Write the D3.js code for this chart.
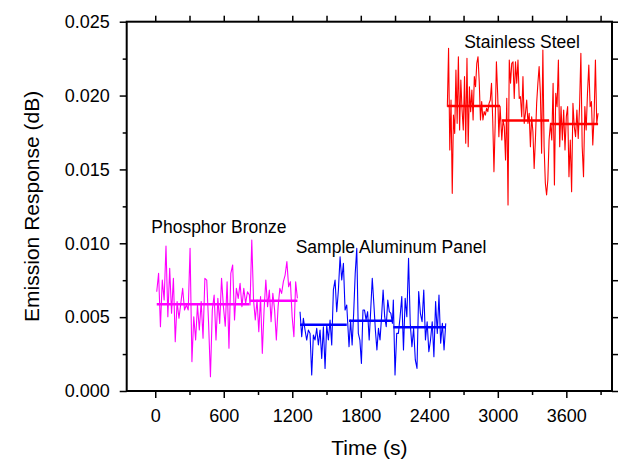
<!DOCTYPE html>
<html>
<head>
<meta charset="utf-8">
<script src="https://cdn.jsdelivr.net/npm/d3@7"></script>
<style>
  body { margin: 0; background: #fff; }
  text { font-family: Arial, "Liberation Sans", Helvetica, sans-serif; }
</style>
</head>
<body>
<svg id="chart" width="636" height="460"></svg>
<script>
// emission response values are in 1e-3 dB, one array per measurement run
const bronzeRuns = [
  [6.72, 7.97, 4.35, 7.51, 6.16, 9.82, 5.03, 8.30, 5.26, 7.63, 3.34, 6.05, 4.92, 5.93, 6.95, 5.48, 5.82, 5.48, 9.66, 1.99, 5.03, 3.45, 5.82, 4.13, 6.05, 3.57, 7.63, 7.51, 4.58, 0.97, 5.48, 6.50, 3.45, 6.27, 4.58, 7.63, 5.71, 4.38, 7.40, 2.89, 7.97, 8.53, 4.81, 6.95, 6.27, 7.29, 5.71, 6.95, 5.93, 6.72, 6.50],
  [5.82, 10.22, 6.16, 4.81, 6.16, 4.02, 6.39, 2.55, 5.48, 7.51, 5.71, 6.84, 4.69, 6.61, 5.48, 3.45, 5.71, 6.95, 6.61, 7.40, 7.85, 8.76, 7.06, 7.40, 5.03, 3.68, 7.40, 6.27]
]
const bronzeTimes = [[13, 824], [830, 1245]]
const bronzeMeans = [5.87, 6.11]

const aluminumRuns = [
  [5.37, 3.68, 4.92, 4.13, 3.45, 4.13, 3.90, 1.08, 3.79, 3.45, 4.24, 3.11, 4.13, 2.21, 4.35, 1.53, 4.47, 3.45, 4.81, 3.11, 6.84, 7.51, 5.37, 6.84, 9.09, 7.51, 8.64, 5.48, 5.82],
  [3.00, 4.81, 3.11, 5.26, 7.97, 9.66, 3.90, 3.45, 1.87, 5.48, 5.48, 4.81, 5.37, 3.45, 5.48, 7.63, 5.93, 4.13, 2.78, 4.24, 3.45, 5.03, 6.84, 5.03, 4.35, 6.16, 5.37, 5.26, 4.58],
  [6.16, 1.08, 3.90, 3.90, 5.03, 6.39, 2.78, 6.27, 5.03, 8.98, 4.58, 3.00, 4.24, 2.10, 1.53, 6.73, 5.26, 4.69, 6.84, 3.45, 4.69, 2.66, 3.45, 4.69, 2.32, 6.05, 3.90, 6.50, 3.23, 4.58, 2.78, 4.58]
]
const aluminumTimes = [[1268, 1677], [1697, 2077], [2085, 2544]]
const aluminumMeans = [4.49, 4.76, 4.31]

const steelRuns = [
  [19.25, 23.20, 16.31, 19.70, 13.38, 18.68, 17.44, 21.73, 18.12, 22.63, 17.67, 21.05, 19.02, 17.67, 21.28, 16.77, 22.52, 16.54, 20.60, 18.91, 20.38, 18.35, 21.28, 20.60, 22.18, 22.63, 20.94, 18.35, 19.59, 18.35, 18.91, 18.68, 19.14, 18.91, 19.47, 19.70, 20.83, 18.35, 14.85, 18.12, 22.29, 20.15, 17.22, 19.25],
  [16.99, 18.35, 17.89, 15.64, 19.81, 12.59, 22.41, 20.83, 22.18, 22.29, 19.81, 22.29, 20.83, 22.41, 19.81, 19.93, 18.57, 21.28, 18.12, 18.80, 19.70, 18.12, 18.80, 16.54, 18.57, 17.56, 15.07, 16.99, 19.47, 20.83, 21.96, 20.15, 16.09, 23.08, 16.54, 14.06, 13.27, 14.28, 16.99],
  [18.12, 16.99, 20.83, 13.95, 20.15, 19.25, 22.41, 16.54, 19.25, 16.99, 19.02, 16.31, 18.57, 19.25, 14.51, 16.99, 13.49, 19.47, 17.89, 17.22, 19.02, 17.10, 19.25, 22.86, 16.54, 14.51, 19.25, 17.67, 20.15, 22.07, 19.25, 19.59, 16.65, 18.57, 22.41, 18.12, 18.80]
]
const steelTimes = [[2558, 3020], [3035, 3449], [3461, 3878]]
const steelMeans = [19.29, 18.32, 18.07]

const xTicks = [0, 600, 1200, 1800, 2400, 3000, 3600]
const xMinor = [300, 900, 1500, 2100, 2700, 3300, 3900]
const yTicks = [0, 5, 10, 15, 20, 25]
const yMinor = [2.5, 7.5, 12.5, 17.5, 22.5]

const svg = d3.select('#chart')
const plotL = 126.7, plotR = 612, plotT = 21.7, plotB = 391

const x = d3.scaleLinear().domain([-250, 4000]).range([plotL, plotR])
const y = d3.scaleLinear().domain([0, 25]).range([plotB, plotT])

const materials = [
  {runs: bronzeRuns, times: bronzeTimes, means: bronzeMeans, color: '#ff00ff'},
  {runs: aluminumRuns, times: aluminumTimes, means: aluminumMeans, color: '#0000ff'},
  {runs: steelRuns, times: steelTimes, means: steelMeans, color: '#ff0000'}
]

const line = d3.line().x(d => x(d[0])).y(d => y(d[1]))

materials.forEach(m => {
  // spread the samples of each run over its time span
  let pts = []
  m.runs.forEach((vals, r) => {
    const [t0, t1] = m.times[r]
    vals.forEach((v, i) => pts.push([t0 + (t1 - t0) * i / (vals.length - 1), v]))
  })
  svg.append('path')
    .attr('d', line(pts))
    .attr('fill', 'none')
    .attr('stroke', m.color)
    .attr('stroke-width', 1.1)
    .attr('stroke-linejoin', 'round')

  svg.append('g').selectAll('line')
    .data(m.means)
    .join('line')
    .attr('x1', (d, i) => x(m.times[i][0]))
    .attr('x2', (d, i) => x(m.times[i][1]))
    .attr('y1', d => y(d))
    .attr('y2', d => y(d))
    .attr('stroke', m.color)
    .attr('stroke-width', 2.5)
})

// axes
function styleAxis(g) {
  g.select('.domain').remove()
  g.selectAll('line').attr('stroke', '#000').attr('stroke-width', 1.5)
  g.selectAll('text').attr('font-size', 18).attr('fill', '#000')
}

svg.append('g').attr('transform', `translate(0,${plotB})`)
  .call(d3.axisBottom(x).tickValues(xTicks).tickSize(7).tickPadding(11).tickFormat(d3.format('d')))
  .call(styleAxis)
svg.append('g').attr('transform', `translate(0,${plotB})`)
  .call(d3.axisBottom(x).tickValues(xMinor).tickSize(4).tickFormat(''))
  .call(styleAxis)
svg.append('g').attr('transform', `translate(0,${plotT})`)
  .call(d3.axisTop(x).tickValues(xTicks.concat(xMinor)).tickSize(6).tickFormat(''))
  .call(styleAxis)

svg.append('g').attr('transform', `translate(${plotL},0)`)
  .call(d3.axisLeft(y).tickValues(yTicks).tickSize(7).tickPadding(10).tickFormat(d => (d / 1000).toFixed(3)))
  .call(styleAxis)
svg.append('g').attr('transform', `translate(${plotL},0)`)
  .call(d3.axisLeft(y).tickValues(yMinor).tickSize(4).tickFormat(''))
  .call(styleAxis)
svg.append('g').attr('transform', `translate(${plotR},0)`)
  .call(d3.axisRight(y).tickValues(yTicks.concat(yMinor)).tickSize(6).tickFormat(''))
  .call(styleAxis)

svg.append('rect')
  .attr('x', plotL).attr('y', plotT)
  .attr('width', plotR - plotL).attr('height', plotB - plotT)
  .attr('fill', 'none').attr('stroke', '#000').attr('stroke-width', 2)

// titles
svg.append('text')
  .attr('x', (plotL + plotR) / 2).attr('y', 455)
  .attr('text-anchor', 'middle').attr('font-size', 21)
  .text('Time (s)')
svg.append('text')
  .attr('transform', `translate(39,${(plotT + plotB) / 2}) rotate(-90)`)
  .attr('text-anchor', 'middle').attr('font-size', 21)
  .text('Emission Response (dB)')

// material labels
const labels = [
  {text: 'Phosphor Bronze', t: -35, v: 10.7},
  {text: 'Sample Aluminum Panel', t: 1230, v: 9.36},
  {text: 'Stainless Steel', t: 2705, v: 23.2}
]
svg.append('g').selectAll('text')
  .data(labels)
  .join('text')
  .attr('x', d => x(d.t))
  .attr('y', d => y(d.v))
  .attr('font-size', 17.5)
  .text(d => d.text)
</script>
</body>
</html>
